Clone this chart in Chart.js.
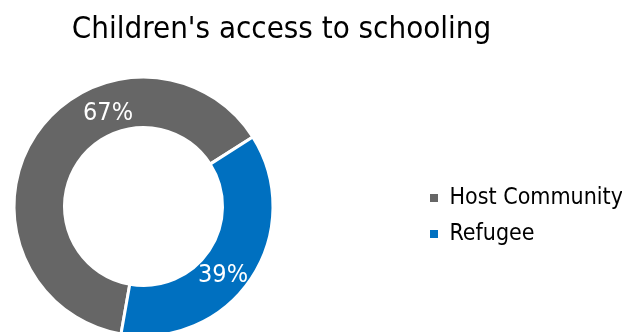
<!DOCTYPE html>
<html>
<head>
<meta charset="utf-8">
<title>Children's access to schooling</title>
<script src="https://cdn.jsdelivr.net/npm/chart.js@4"></script>
<style>
  html, body { margin: 0; padding: 0; background: #fff; overflow: hidden; }
  #wrap { position: relative; width: 622px; height: 345px; }
</style>
</head>
<body>
<div id="wrap"><canvas id="grafico" width="622" height="345"></canvas></div>
<script>
// dados
const categorias = ['Host Community', 'Refugee'];
const valores = [67, 39];
const cores = ['#666666', '#0070C0'];
// onde o rótulo fica ao longo de cada fatia (0 = início, 1 = fim) e entre raio interno/externo
const posRotulo = [0.655, 0.555];
const raioRotulo = [0.4, 0.525];

const FONTE = '"DejaVu Sans Condensed", "DejaVu Sans", sans-serif';

// posiciona o anel e a legenda depois do layout
const posicionar = {
  id: 'posicionar',
  afterLayout(chart) {
    chart.chartArea = { left: 12.5, top: 75.5, right: 274.5, bottom: 337.5, width: 262, height: 262 };
    const lg = chart.legend;
    const w = lg.width, h = lg.height;
    lg.left = 417; lg.right = 417 + w;
    lg.top = 173.5; lg.bottom = 173.5 + h;
  }
};

// rótulos de percentagem dentro de cada fatia
const rotulos = {
  id: 'rotulos',
  afterDatasetsDraw(chart) {
    const ctx = chart.ctx;
    const meta = chart.getDatasetMeta(0);
    ctx.save();
    ctx.fillStyle = '#fff';
    ctx.font = '25px ' + FONTE;
    ctx.textAlign = 'center';
    ctx.textBaseline = 'middle';
    meta.data.forEach((arc, i) => {
      const { x, y, startAngle, endAngle, innerRadius, outerRadius } = arc.getProps(['x', 'y', 'startAngle', 'endAngle', 'innerRadius', 'outerRadius'], true);
      const a = startAngle + (endAngle - startAngle) * posRotulo[i];
      const r = innerRadius + (outerRadius - innerRadius) * raioRotulo[i];
      ctx.fillText(valores[i] + '%', x + Math.cos(a) * r, y + Math.sin(a) * r);
    });
    ctx.restore();
  }
};

const gerarLegenda = Chart.overrides.doughnut.plugins.legend.labels.generateLabels;

new Chart(document.getElementById('grafico'), {
  type: 'doughnut',
  data: {
    labels: categorias,
    datasets: [{
      data: valores,
      backgroundColor: cores,
      borderColor: '#fff',
      borderWidth: 3
    }]
  },
  options: {
    responsive: false,
    animation: false,
    rotation: 190,
    cutout: '61%',
    layout: { padding: { left: 0, right: 59, top: 0, bottom: 0 } },
    plugins: {
      title: {
        display: true,
        text: "Children's access to schooling",
        color: '#000',
        font: { family: FONTE, size: 31, weight: 'normal' },
        padding: { top: 11, bottom: 10 }
      },
      legend: {
        position: 'right',
        align: 'start',
        labels: {
          boxWidth: 8,
          boxHeight: 8,
          padding: 13,
          color: '#000',
          font: { family: FONTE, size: 23 },
          // caixinhas sem a borda branca das fatias
          generateLabels: chart => gerarLegenda(chart).map(it => ({ ...it, lineWidth: 0 }))
        }
      },
      tooltip: { enabled: false }
    }
  },
  plugins: [posicionar, rotulos]
});
</script>
</body>
</html>
